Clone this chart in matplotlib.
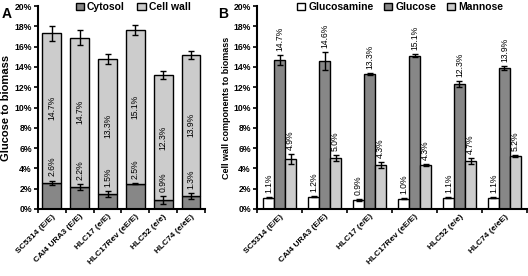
import matplotlib.pyplot as plt
import numpy as np
from matplotlib.patches import Patch

plt.rcParams['font.family'] = ['Liberation Sans', 'DejaVu Sans']

strains = ['SC5314 (E/E)', 'CAI4 URA3 (E/E)', 'HLC17 (e/E)',
           'HLC17Rev (eE/E)', 'HLC52 (e/e)', 'HLC74 (e/eE)']

# panel A
cytosol = [2.6, 2.2, 1.5, 2.5, 0.9, 1.3]
cytosol_err = [0.2, 0.3, 0.3, 0.07, 0.4, 0.3]
cellwall = [14.7, 14.7, 13.3, 15.1, 12.3, 13.9]
total_err = [0.7, 0.7, 0.5, 0.5, 0.4, 0.4]

# panel B
glucosamine = [1.1, 1.2, 0.9, 1.0, 1.1, 1.1]
glucosamine_err = [0.04, 0.04, 0.12, 0.05, 0.04, 0.04]
glucose = [14.7, 14.6, 13.3, 15.1, 12.3, 13.9]
glucose_err = [0.5, 0.9, 0.1, 0.15, 0.3, 0.2]
mannose = [4.9, 5.0, 4.3, 4.3, 4.7, 5.2]
mannose_err = [0.5, 0.3, 0.3, 0.1, 0.3, 0.12]

dark = '#878787'
light = '#cccccc'

fig = plt.figure(figsize=(5.28, 2.76), dpi=100)
axA = fig.add_axes([0.072, 0.243, 0.316, 0.735])
axB = fig.add_axes([0.487, 0.243, 0.511, 0.735])

x = np.arange(len(strains))
ekw = dict(ecolor='black', elinewidth=1, capsize=2.5, capthick=1)


def style(ax, ylabel, ysize):
    ax.set_ylim(0, 20)
    ax.set_xlim(-0.5, len(strains) - 0.5)
    ax.set_yticks(np.arange(0, 21, 2))
    ax.set_yticklabels([f'{v}%' for v in range(0, 21, 2)], fontsize=6.2, fontweight='bold')
    ax.set_xticks(np.arange(len(strains) + 1) - 0.5)
    ax.set_xticklabels([])
    ax.set_xticks(x, minor=True)
    ax.set_xticklabels(strains, minor=True, rotation=45, ha='right',
                       rotation_mode='anchor', fontsize=6, fontweight='bold')
    ax.tick_params(axis='x', which='minor', length=0, pad=3)
    ax.tick_params(axis='x', which='major', length=3, width=1.2)
    ax.tick_params(axis='y', length=3, width=1.2, pad=1.5)
    for s in ['top', 'right']:
        ax.spines[s].set_visible(False)
    for s in ['left', 'bottom']:
        ax.spines[s].set_linewidth(1.5)
    ax.set_ylabel(ylabel, fontsize=ysize, fontweight='bold', labelpad=2)


# panel A: stacked
totals = np.array(cytosol) + np.array(cellwall)
axA.bar(x, cytosol, 0.68, color=dark, edgecolor='black', linewidth=1, zorder=2)
axA.bar(x, cellwall, 0.68, bottom=cytosol, color=light, edgecolor='black',
        linewidth=1, zorder=2)
axA.errorbar(x, totals, yerr=total_err, fmt='none', zorder=3, **ekw)
axA.errorbar(x, cytosol, yerr=cytosol_err, fmt='none', zorder=3, **ekw)
for i in range(len(strains)):
    axA.text(x[i], cytosol[i] + cellwall[i] / 2, f'{cellwall[i]:.1f}%', rotation=90,
             ha='center', va='center', fontsize=6.2)
    axA.text(x[i], cytosol[i] + cytosol_err[i] + 0.4, f'{cytosol[i]:.1f}%', rotation=90,
             ha='center', va='bottom', fontsize=6.2)
style(axA, 'Glucose to biomass', 8)
axA.legend(handles=[Patch(facecolor=dark, edgecolor='black', label='Cytosol'),
                    Patch(facecolor=light, edgecolor='black', label='Cell wall')],
           loc='upper center', bbox_to_anchor=(0.57, 1.04), ncol=2, frameon=False,
           prop=dict(size=7.5, weight='bold'), handlelength=0.8, handleheight=0.8,
           handletextpad=0.3, columnspacing=1.2, borderaxespad=0)
fig.text(0.003, 0.975, 'A', fontsize=10, fontweight='bold', va='top')

# panel B: grouped
w = 0.245
series = [(glucosamine, glucosamine_err, 'white', -w),
          (glucose, glucose_err, dark, 0),
          (mannose, mannose_err, light, w)]
for vals, errs, col, off in series:
    axB.bar(x + off, vals, w, color=col, edgecolor='black', linewidth=1, zorder=2)
    axB.errorbar(x + off, vals, yerr=errs, fmt='none', zorder=3, **ekw)
    for i in range(len(strains)):
        axB.text(x[i] + off, vals[i] + errs[i] + 0.4, f'{vals[i]:.1f}%', rotation=90,
                 ha='center', va='bottom', fontsize=6.2)
style(axB, 'Cell wall components to biomass', 6.5)
axB.legend(handles=[Patch(facecolor='white', edgecolor='black', label='Glucosamine'),
                    Patch(facecolor=dark, edgecolor='black', label='Glucose'),
                    Patch(facecolor=light, edgecolor='black', label='Mannose')],
           loc='upper center', bbox_to_anchor=(0.53, 1.04), ncol=3, frameon=False,
           prop=dict(size=7.5, weight='bold'), handlelength=0.8, handleheight=0.8,
           handletextpad=0.3, columnspacing=1.0, borderaxespad=0)
fig.text(0.413, 0.975, 'B', fontsize=10, fontweight='bold', va='top')

fig.savefig('out.png', dpi=100)
